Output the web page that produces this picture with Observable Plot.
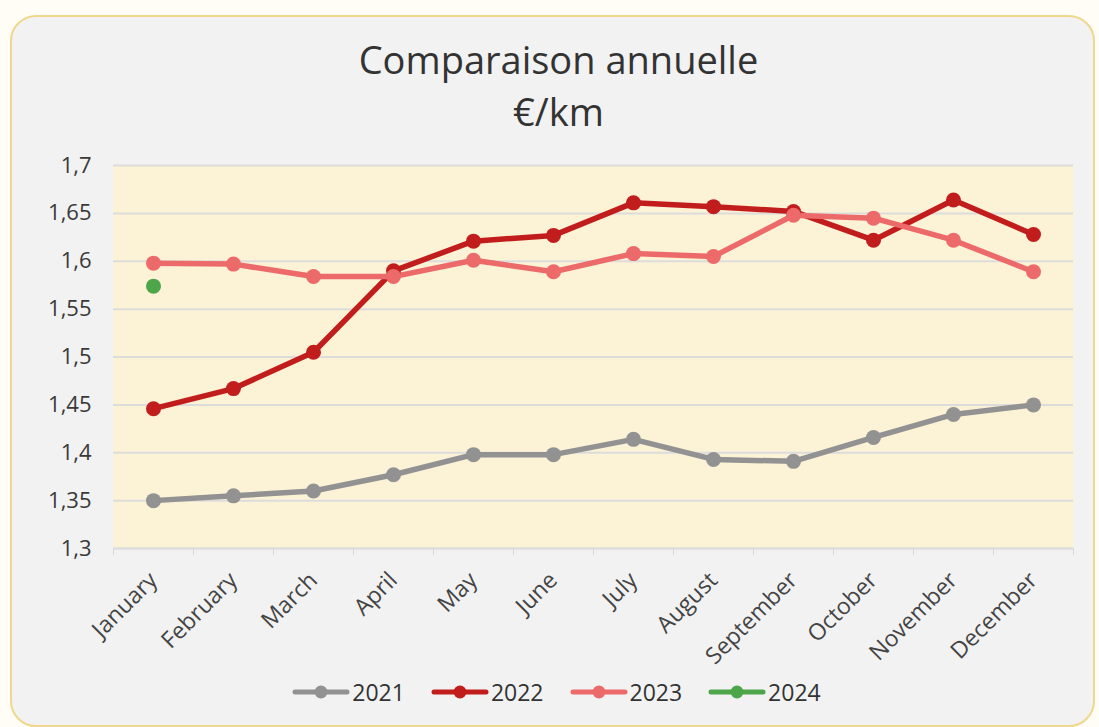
<!DOCTYPE html>
<html>
<head>
<meta charset="utf-8">
<script src="https://cdn.jsdelivr.net/npm/d3@7"></script>
<script src="https://cdn.jsdelivr.net/npm/@observablehq/plot@0.6"></script>
<style>
  html, body { margin: 0; padding: 0; background: #fffdf6; width: 1099px; height: 727px; overflow: hidden; font-family: "Open Sans", "Noto Sans", sans-serif; }
  #card { position: absolute; left: 10px; top: 15px; width: 1085px; height: 712px; box-sizing: border-box; background: #f2f2f2; border: 2px solid #efd78c; border-radius: 26px; }
  #title { position: absolute; left: 16px; width: 1085px; top: 33px; text-align: center; color: #333; font-size: 38px; line-height: 52px; }
  #chart { position: absolute; left: 0; top: 140px; }
  #chart svg { overflow: visible; }
  #legend { position: absolute; left: 0; width: 1099px; top: 676px; display: flex; justify-content: center; gap: 26px; font-size: 23px; color: #333; align-items: center; padding-left: 14px; box-sizing: border-box; }
  .item { display: flex; align-items: center; gap: 2px; }
</style>
</head>
<body>
<div id="card"></div>
<div id="title">Comparaison annuelle<br>€/km</div>
<div id="chart"></div>
<div id="legend"></div>
<script>
const months = ["January","February","March","April","May","June","July","August","September","October","November","December"];
const years = ["2021","2022","2023","2024"];
const colors = ["#929292","#c21d1d","#ec6a6a","#4da64a"];
const v2021 = [1.350,1.355,1.360,1.377,1.398,1.398,1.414,1.393,1.391,1.416,1.440,1.450];
const v2022 = [1.446,1.467,1.505,1.590,1.621,1.627,1.661,1.657,1.652,1.622,1.664,1.628];
const v2023 = [1.598,1.597,1.584,1.584,1.601,1.589,1.608,1.605,1.648,1.645,1.622,1.589];
const v2024 = [1.574];
const yTicks = [1.3,1.35,1.4,1.45,1.5,1.55,1.6,1.65,1.7];

const series = [v2021, v2022, v2023, v2024];
const data = [];
series.forEach((vals, s) => vals.forEach((v, i) => data.push({year: years[s], m: i + 1, value: v})));

const fmt = d => d3.format(".2~f")(d).replace(".", ",");
const idx = months.map((_, i) => i + 1);
const bounds = d3.range(0.5, 13, 1);

const chart = Plot.plot({
  width: 1099,
  height: 532,
  marginLeft: 113,
  marginRight: 26,
  marginTop: 25,
  marginBottom: 124,
  style: { background: "transparent", fontFamily: "'Open Sans', 'Noto Sans', sans-serif" },
  x: { type: "linear", domain: [0.5, 12.5] },
  y: { domain: [1.3, 1.7] },
  color: { domain: years, range: colors },
  marks: [
    Plot.frame({ fill: "#fcf2d6", stroke: null }),
    Plot.gridY(yTicks, { stroke: "#dcdcdc", strokeOpacity: 1, strokeWidth: 2 }),
    Plot.ruleY([1.3], { stroke: "#dedede", strokeWidth: 2 }),
    Plot.axisY(yTicks, { tickSize: 0, tickPadding: 22, tickFormat: fmt, fontSize: 22, fill: "#3a3a3a", label: null }),
    Plot.axisX(bounds, { tickSize: 7, tickFormat: () => "", stroke: "#d8d8d8", label: null }),
    Plot.axisX(idx, { tickSize: 0, tickPadding: 28, tickRotate: -45, tickFormat: i => months[i - 1], fontSize: 23, fill: "#444", label: null }),
    Plot.line(data, { x: "m", y: "value", z: "year", stroke: "year", strokeWidth: 5.5, strokeLinejoin: "round", strokeLinecap: "round" }),
    Plot.dot(data, { x: "m", y: "value", fill: "year", r: 7.5 })
  ]
});
document.getElementById("chart").appendChild(chart);

const legend = document.getElementById("legend");
years.forEach((y, i) => {
  const item = document.createElement("div");
  item.className = "item";
  item.innerHTML = `<svg width="58" height="16"><line x1="3" y1="8" x2="55" y2="8" stroke="${colors[i]}" stroke-width="5" stroke-linecap="round"/><circle cx="29" cy="8" r="6.5" fill="${colors[i]}"/></svg><span>${y}</span>`;
  legend.appendChild(item);
});
</script>
</body>
</html>
